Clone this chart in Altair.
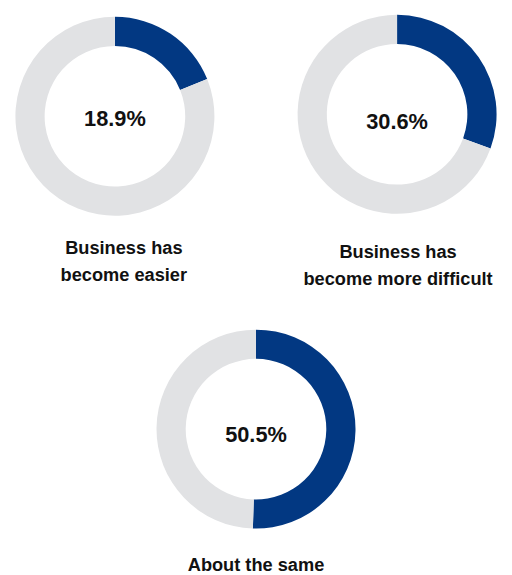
import altair as alt
import pandas as pd

labels = [["Business has", "become easier"],
          ["Business has", "become more difficult"],
          ["About the same"]]
shares = [18.9, 30.6, 50.5]

BLUE = "#023882"
GRAY = "#e1e2e4"
FONT = "Liberation Sans"


def panel(i, w, h, title_offset, title_dx, text_dy):
    df = pd.DataFrame({"share": [shares[i]]})
    base = alt.Chart(df)
    ring = (
        base.transform_calculate(rest="100 - datum.share")
        .transform_fold(["share", "rest"], as_=["part", "value"])
        .mark_arc(outerRadius=100.5, innerRadius=71)
        .encode(
            theta=alt.Theta("value:Q", stack=True),
            color=alt.Color("part:N",
                            scale=alt.Scale(domain=["share", "rest"], range=[BLUE, GRAY]),
                            legend=None),
            order=alt.Order("part:N", sort="descending"),
        )
    )
    txt = (
        base.transform_calculate(lbl="format(datum.share, '.1f') + '%'")
        .mark_text(font=FONT, fontSize=22, fontWeight="bold", color="#111111",
                   align="center", baseline="alphabetic", dy=text_dy)
        .encode(text="lbl:N")
    )
    return alt.layer(ring, txt).properties(
        width=w, height=h,
        title=alt.TitleParams(text=labels[i], orient="bottom", anchor="middle",
                              font=FONT, fontSize=18.4, fontWeight="bold",
                              color="#111111", lineHeight=27,
                              offset=title_offset, dx=title_dx),
    )


top = alt.hconcat(
    panel(0, 216, 213, 18, 9, 9.5),
    panel(1, 216, 209, 25.5, 1, 14.4),
    spacing=69,
)
chart = alt.vconcat(top, panel(2, 501, 211, 22.5, 0, 13.3),
                    spacing=37).properties(padding=0).configure_view(stroke=None)

chart.save("out.html", embed_options={"renderer": "svg", "actions": False})
